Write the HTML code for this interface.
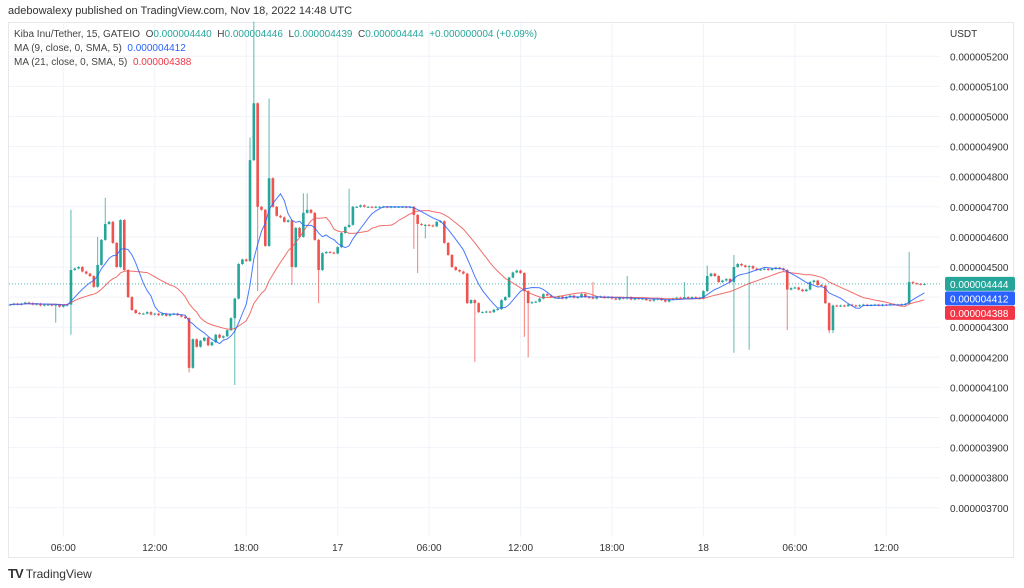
<!DOCTYPE html>
<html><head><meta charset="utf-8">
<style>
html,body{margin:0;padding:0;background:#fff;}
body{width:1024px;height:588px;position:relative;overflow:hidden;font-family:"Liberation Sans",sans-serif;}
#pub{position:absolute;left:8px;top:5px;font-size:11px;color:#333;}
#frame{position:absolute;left:8px;top:22px;width:1006px;height:536px;border:1px solid #e6e8ee;box-sizing:border-box;}
.leg{position:absolute;left:14px;font-size:10px;color:#444;white-space:nowrap;}
#footer{position:absolute;left:8px;top:566px;font-size:12px;color:#333;}
</style></head>
<body>
<div id="pub">adebowalexy published on TradingView.com, Nov 18, 2022 14:48 UTC</div>
<div id="frame"></div>
<svg id="chart" width="1024" height="588" style="position:absolute;left:0;top:0" xmlns="http://www.w3.org/2000/svg">
<g id="grid"></g>
<g id="candles"></g>
<g id="mas"></g>
<g id="axes"></g>
</svg>
<div class="leg" style="top:29px">Kiba Inu/Tether, 15, GATEIO&nbsp; <span style="color:#444">O</span><span style="color:#26a69a">0.000004440</span>&nbsp; H<span style="color:#26a69a">0.000004446</span>&nbsp; L<span style="color:#26a69a">0.000004439</span>&nbsp; C<span style="color:#26a69a">0.000004444</span>&nbsp; <span style="color:#26a69a">+0.000000004 (+0.09%)</span></div>
<div class="leg" style="top:43px">MA (9, close, 0, SMA, 5)&nbsp; <span style="color:#2962ff">0.000004412</span></div>
<div class="leg" style="top:57px">MA (21, close, 0, SMA, 5)&nbsp; <span style="color:#f23645">0.000004388</span></div>
<div id="footer"><b style="font-size:13px;letter-spacing:-1px">TV</b> TradingView</div>
<script>
const closes = [4375,4378,4375,4378,4382,4380,4375,4378,4372,4375,4375,4372,4375,4368,4372,4375,
4490,4495,4500,4485,4478,4470,4434,4507,4590,4643,4650,4580,4500,4656,4490,4400,4357,4347,4345,
4345,4350,4342,4345,4340,4345,4338,4342,4345,4340,4335,
4330,4165,4260,4235,4255,4265,4240,4250,4275,4265,4270,4290,4330,4395,4510,4525,4520,4855,5044,4700,4690,4570,4795,4700,4670,4665,4650,4655,4500,4630,4600,
4680,4690,4680,4590,4490,4546,4550,4548,4545,4566,4613,4633,4640,4700,
4700,4705,4700,4700,4698,4700,4700,4700,4698,4700,4700,4700,4700,4698,4700,
4673,4643,4640,4640,4638,4635,4650,4652,4580,4540,4500,4490,4485,4478,4380,4390,4380,4350,4350,4352,4350,4358,4360,4390,4400,4465,4482,4488,4480,4420,4380,4383,4385,4395,4410,4405,
4400,4398,4402,4395,4400,4405,4398,4400,4410,4400,4398,4395,4400,4402,4398,4400,4395,4392,4398,4395,4400,4392,4396,4395,
4395,4390,4388,4392,4395,4390,4385,4392,4395,4398,4395,4400,4395,4400,4398,4395,
4420,4470,4478,4470,4450,4455,4460,4450,4500,4510,4505,4500,4503,4495,4490,4492,4494,4490,4494,4498,4495,4490,4425,4430,4432,4425,4420,4425,4450,4455,4440,4438,4380,4290,4372,4370,
4372,4370,4375,4372,4370,4373,4375,4372,4374,4375,4372,4375,4374,4376,4375,4374,4376,4378,
4450,4446,4444,4442,4444];
const highSpikes = [[16,4690],[23,4600],[25,4730],[63,4930],[64,5315],[68,5060],[77,4745],[78,4745],[89,4760],[153,4450],[162,4470],[177,4450],[183,4505],[190,4540],[236,4550]];
const lowSpikes = [[12,4315],[16,4275],[47,4150],[59,4108],[65,4420],[74,4440],[81,4380],[106,4560],[107,4480],[109,4595],[122,4185],[135,4268],[136,4200],[190,4215],[194,4225],[204,4290],[215,4280],[216,4280]];
const priceTicks = [3700,3800,3900,4000,4100,4200,4300,4400,4500,4600,4700,4800,4900,5000,5100,5200];
const timeLabels = ["06:00","12:00","18:00","17","06:00","12:00","18:00","18","06:00","12:00"];
const timeLabelIdx = [14,38,62,86,110,134,158,182,206,230];
const lastPrice = 4444, ma9Last = 4412, ma21Last = 4388;

const NS="http://www.w3.org/2000/svg";
function xs(i){return 10+3.81*i;}
function ys(v){return 267-(v-4500)*0.301;}
function mk(tag,parent,attrs){const e=document.createElementNS(NS,tag);for(const k in attrs)e.setAttribute(k,attrs[k]);parent.appendChild(e);return e;}
const grid=document.getElementById('grid'),cg=document.getElementById('candles'),mg=document.getElementById('mas'),ax=document.getElementById('axes');
const fmt=v=>"0.00000"+String(v).padStart(4,"0");

priceTicks.forEach(v=>{
  const l=mk('line',grid,{x1:9,x2:940,y1:ys(v),y2:ys(v),stroke:'#f0f3fa','stroke-width':1});
  
  
  const t=mk('text',ax,{x:950,y:ys(v)+4,'font-size':10,fill:'#333','font-family':'Liberation Sans, sans-serif'});
  t.textContent=fmt(v);
  
  
});
timeLabels.forEach((s,k)=>{
  const x=xs(timeLabelIdx[k]);
  const l=mk('line',grid,{x1:x,x2:x,y1:23,y2:537,stroke:'#f0f3fa','stroke-width':1});
  
  
  const t=mk('text',ax,{x:x,y:551,'font-size':10,fill:'#333','text-anchor':'middle','font-family':'Liberation Sans, sans-serif'});
  t.textContent=s;
  
  
});
const usd=mk('text',ax,{x:950,y:37,'font-size':10,fill:'#333','font-family':'Liberation Sans, sans-serif'});
usd.textContent='USDT';



const dl=mk('line',grid,{x1:9,x2:940,y1:ys(lastPrice),y2:ys(lastPrice),stroke:'#26a69a','stroke-width':1,'stroke-dasharray':'1,2',opacity:0.8});



const hiMap={},loMap={};
highSpikes.forEach(p=>hiMap[p[0]]=p[1]);
lowSpikes.forEach(p=>loMap[p[0]]=p[1]);
closes.forEach((c,i)=>{
  const o=i>0?closes[i-1]:c;
  const up=c>=o;
  const col=up?'#26a69a':'#ef5350';
  const hi=hiMap[i]!==undefined?hiMap[i]:Math.max(o,c)+3;
  const lo=loMap[i]!==undefined?loMap[i]:Math.min(o,c)-3;
  const x=xs(i);
  const w=mk('line',cg,{x1:x,x2:x,y1:ys(hi),y2:ys(lo),stroke:col,'stroke-width':1,opacity:0.75});
  
  
  const top=ys(Math.max(o,c)),bot=ys(Math.min(o,c));
  const r=mk('rect',cg,{x:x-1.3,y:top,width:2.6,height:Math.max(1,bot-top),fill:col});
  
  
});

function sma(n){return closes.map((c,i)=>{const s=Math.max(0,i-n+1);let t=0;for(let k=s;k<=i;k++)t+=closes[k];return t/(i-s+1);});}
function drawMA(vals,col,name){
  const d=vals.map((v,i)=>(i?'L':'M')+xs(i).toFixed(1)+','+ys(v).toFixed(1)).join('');
  const p=mk('path',mg,{d:d,fill:'none',stroke:col,'stroke-width':1,opacity:0.85});
  
  
}
drawMA(sma(21),'#ef5350','ma21-line');
drawMA(sma(9),'#2962ff','ma9-line');

let prevY=-100;
[[lastPrice,'#26a69a','last-price-label'],[ma9Last,'#2962ff','ma9-price-label'],[ma21Last,'#f23645','ma21-price-label']].forEach(p=>{
  let y=Math.max(ys(p[0]),prevY+14.5);
  prevY=y;
  const r=mk('rect',ax,{x:945,y:y-7,width:70,height:14,rx:2,fill:p[1]});
  
  
  const t=mk('text',ax,{x:950,y:y+4,'font-size':10,fill:'#fff','font-family':'Liberation Sans, sans-serif'});
  t.textContent=fmt(p[0]);
  
  
});
</script>
</body></html>
